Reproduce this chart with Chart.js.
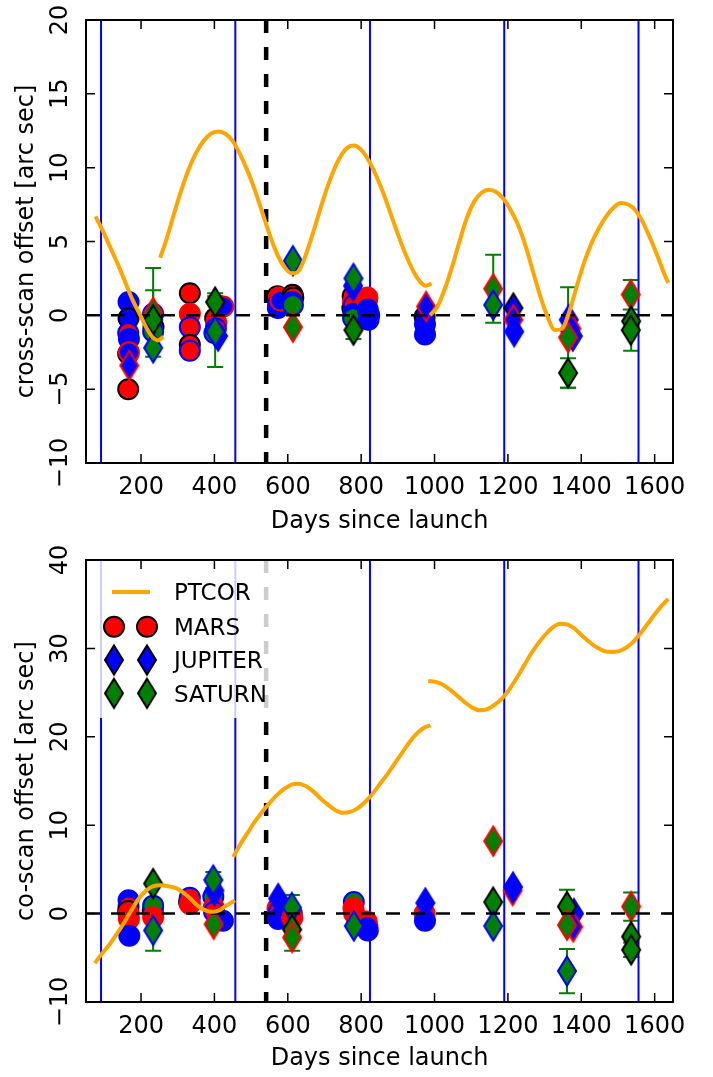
<!DOCTYPE html>
<html>
<head>
<meta charset="utf-8">
<script src="https://cdn.jsdelivr.net/npm/chart.js@4.4.1/dist/chart.umd.min.js"></script>
<style>
  body { margin: 0; background: #fff; }
  .panel { position: absolute; left: 0; width: 713px; }
  #top { top: 0; height: 540px; }
  #bottom { top: 540px; height: 537px; }
</style>
</head>
<body>
<div class="panel" id="top"><canvas id="crossChart"></canvas></div>
<div class="panel" id="bottom"><canvas id="coChart"></canvas></div>
<script>
// axes
const xTicks = [200, 400, 600, 800, 1000, 1200, 1400, 1600];
const crossTicks = [-10, -5, 0, 5, 10, 15, 20];
const coTicks = [-10, 0, 10, 20, 30, 40];
const yearMarks = [91, 457, 824, 1190, 1556];
const eventDay = 541;

// PTCOR model, [day, offset], three pieces per panel
const ptcorCross1 = [[76,6.7],[96,5.7],[116,4.6],[136,3.5],[156,2.3],[176,1.1],[196,0.1],[216,-0.9],[232,-1.5],[246,-1.7],[261,-1.45]];
const ptcorCross2 = [[252,3.9],[270,5.2],[290,6.9],[310,8.5],[330,9.9],[350,11.0],[370,11.8],[390,12.3],[410,12.45],[430,12.3],[450,11.8],[470,10.9],[490,9.8],[510,8.5],[530,7.0],[550,5.5],[570,4.2],[590,3.3],[610,2.85],[625,2.9],[640,3.5],[660,4.9],[680,6.5],[700,8.1],[720,9.5],[740,10.6],[760,11.3],[780,11.5],[800,11.2],[820,10.5],[840,9.5],[860,8.3],[880,6.9],[900,5.5],[920,4.2],[940,3.1],[960,2.3],[975,2.0],[992,2.15]];
const ptcorCross3 = [[988,0.0],[1008,0.6],[1028,1.8],[1048,3.3],[1068,5.0],[1088,6.6],[1108,7.7],[1128,8.3],[1148,8.5],[1168,8.35],[1188,7.9],[1208,7.1],[1228,6.1],[1248,4.7],[1268,3.0],[1288,1.3],[1308,-0.1],[1328,-1.0],[1348,-0.9],[1368,0.3],[1388,2.0],[1408,3.6],[1428,4.9],[1448,5.9],[1468,6.7],[1488,7.3],[1508,7.6],[1528,7.5],[1548,7.1],[1568,6.3],[1588,5.2],[1608,4.0],[1628,2.7],[1637,2.2]];

const ptcorCo1 = [[74,-5.6],[94,-4.5],[114,-3.5],[134,-2.3],[154,-1.0],[174,0.4],[194,1.7],[214,2.6],[234,3.1],[254,3.2],[274,3.1],[294,2.9],[314,2.4],[334,1.7],[354,0.9],[374,0.4],[394,0.2],[414,0.4],[434,0.95],[456,1.5]];
const ptcorCo2 = [[451,6.4],[470,7.8],[490,9.1],[510,10.4],[530,11.5],[550,12.5],[570,13.4],[590,14.1],[610,14.6],[630,14.7],[650,14.4],[670,13.8],[690,13.0],[710,12.3],[730,11.7],[750,11.4],[770,11.5],[790,11.9],[810,12.6],[830,13.5],[850,14.6],[870,15.7],[890,16.9],[910,18.1],[930,19.3],[950,20.3],[970,21.0],[989,21.3]];
const ptcorCo3 = [[983,26.3],[1003,26.2],[1023,25.9],[1043,25.3],[1063,24.6],[1083,23.9],[1103,23.3],[1123,23.0],[1143,23.1],[1163,23.6],[1183,24.3],[1203,25.3],[1223,26.6],[1243,28.0],[1263,29.4],[1283,30.6],[1303,31.6],[1323,32.4],[1343,32.8],[1363,32.7],[1383,32.2],[1403,31.4],[1423,30.7],[1443,30.1],[1463,29.7],[1483,29.6],[1503,29.7],[1523,30.1],[1543,30.8],[1563,31.8],[1583,32.9],[1603,34.0],[1623,35.0],[1637,35.6]];

// planet offsets: [day, offset, subset] (+ error for saturn)
const marsCross = [[166,0.9,'d'],[166,-0.2,'i'],[165,-1.2,'c'],[167,-1.6,'d'],[165,-2.6,'a'],[167,-2.5,'e'],[165,-5.0,'a'],
  [234,-0.8,'a'],[233,0.1,'f'],[233,-1.1,'f'],
  [333,1.5,'a'],[333,0.1,'b'],[333,-0.8,'c'],[333,-2.0,'a'],[333,-2.4,'c'],
  [402,-0.2,'a'],[405,-0.5,'b'],[404,-0.9,'c'],[424,0.6,'e'],[400,-1.2,'f'],
  [572,1.3,'a'],[576,1.2,'b'],[574,0.8,'c'],[573,0.5,'d'],[580,1.0,'e'],
  [613,1.4,'a'],[615,1.2,'a'],[611,0.9,'d'],[614,0.7,'f'],
  [777,1.3,'a'],[776,0.5,'a'],[778,0.9,'b'],[780,0.7,'c'],[779,0.1,'d'],[778,-0.2,'f'],
  [816,1.0,'e'],[817,1.2,'b'],[818,0.4,'d'],[822,0.0,'d'],[820,-0.3,'d'],
  [973,-0.1,'i'],[974,-0.6,'d'],[974,-1.3,'d']];
const jupiterCross = [[168,-3.4,'e'],[410,-1.4,'d'],[778,2.0,'d'],[977,0.6,'e'],
  [1215,0.5,'i'],[1215,-0.3,'e'],[1217,-1.1,'d'],
  [1366,-0.3,'d'],[1368,-1.0,'d'],[1373,-0.9,'e'],[1377,-1.4,'d']];
const saturnCross = [[233,0.2,'h',3.0],[233,-0.3,'g',2.0],[233,-2.2,'f',0],
  [402,0.9,'g',0.6],[402,-1.1,'f',2.4],
  [614,3.7,'f',0],[614,-0.8,'h',0],
  [779,2.5,'f',0],[779,-1.0,'g',0.6],
  [1160,1.8,'h',2.3],[1160,0.7,'f',0],
  [1364,-1.5,'h',3.4],[1364,-3.9,'g',1.0],
  [1535,1.4,'h',1.0],[1536,-0.4,'g',2.0],[1535,-1.0,'g',0]];

const marsCo = [[166,1.5,'d'],[166,0.8,'c'],[165,0.3,'a'],[166,0.0,'b'],[167,-0.6,'b'],[168,-2.5,'d'],
  [232,0.3,'a'],[233,0.9,'f'],[233,-0.4,'b'],
  [331,1.3,'a'],[333,1.8,'c'],[333,1.1,'b'],
  [397,1.9,'f'],[398,0.7,'b'],[399,0.2,'c'],[423,-0.8,'d'],
  [572,0.6,'b'],[576,0.2,'c'],[574,-0.6,'d'],
  [611,0.0,'f'],[612,-0.5,'b'],
  [780,1.3,'f'],[779,0.6,'b'],[781,0.0,'b'],
  [815,-0.9,'b'],[817,-1.4,'e'],[818,-1.9,'d'],
  [973,0.0,'b'],[974,-0.8,'d']];
const jupiterCo = [[400,2.6,'d'],[574,1.7,'d'],[975,1.2,'d'],[1213,2.6,'e'],[1214,3.0,'d'],[1380,0.0,'d'],[1378,-1.5,'e']];
const saturnCo = [[233,3.4,'g',0],[233,-1.9,'f',2.3],
  [397,3.8,'f',0.9],[398,-1.2,'h',0],
  [611,0.7,'f',1.4],[612,-1.8,'g',0],[612,-2.7,'h',1.5],
  [780,-1.4,'f',0],
  [1160,8.2,'h',0],[1160,1.3,'g',0],[1160,-1.4,'f',0],
  [1361,0.8,'g',1.9],[1361,-1.3,'h',0],[1361,-6.5,'f',2.5],
  [1536,0.8,'h',1.6],[1536,-2.6,'g',0],[1536,-4.1,'g',0.8]];

// subset colours (face, edge)
const faceOf = {a:'#ff0000', b:'#ff0000', c:'#ff0000', d:'#0000ff', e:'#0000ff', f:'#008000', g:'#008000', h:'#008000', i:'#0000ff'};
const edgeOf = {a:'#000000', b:'#ff0000', c:'#0000ff', d:'#0000ff', e:'#ff0000', f:'#0000ff', g:'#000000', h:'#ff0000', i:'#000000'};
const ORANGE = '#ffa500';
const FONT = "'DejaVu Sans', sans-serif";

Chart.defaults.font.family = FONT;
Chart.defaults.color = '#000';
Chart.defaults.animation = false;

const diamondCache = {};
function diamond(face, edge) {
  const key = face + edge;
  if (diamondCache[key]) return diamondCache[key];
  const c = document.createElement('canvas');
  c.width = 24; c.height = 34;
  const g = c.getContext('2d');
  g.beginPath();
  g.moveTo(12, 2.5); g.lineTo(21, 17); g.lineTo(12, 31.5); g.lineTo(3, 17); g.closePath();
  g.fillStyle = face; g.fill();
  g.lineWidth = 2; g.strokeStyle = edge; g.stroke();
  diamondCache[key] = c;
  return c;
}

const toXY = rows => rows.map(r => ({x: r[0], y: r[1]}));

function marsSet(rows) {
  return {
    label: 'MARS', data: toXY(rows), order: 4,
    pointStyle: 'circle', pointRadius: 10, pointBorderWidth: 2,
    pointBackgroundColor: rows.map(r => faceOf[r[2]]),
    pointBorderColor: rows.map(r => edgeOf[r[2]])
  };
}
function diamondSet(label, rows, order) {
  return {
    label, data: toXY(rows), order, pointRadius: 10,
    pointStyle: rows.map(r => diamond(faceOf[r[2]], edgeOf[r[2]])),
    errors: rows.map(r => r[3] || 0)
  };
}
function curve(rows) {
  return { type: 'line', label: 'PTCOR', data: toXY(rows), order: 0, borderColor: ORANGE, borderWidth: 4,
    pointRadius: 0, cubicInterpolationMode: 'monotone', fill: false };
}
function vline(day, lo, hi, color, width, dash, order) {
  return { type: 'line', data: [{x: day, y: hi}, {x: day, y: lo}], borderColor: color, borderWidth: width,
    borderDash: dash, pointRadius: 0, order, fill: false };
}

const errorBars = {
  id: 'errorBars',
  beforeDatasetsDraw(chart) {
    const {ctx, scales: {x, y}} = chart;
    ctx.save();
    ctx.strokeStyle = '#008000';
    ctx.lineWidth = 2;
    chart.data.datasets.forEach(ds => {
      if (!ds.errors) return;
      ds.data.forEach((p, i) => {
        const e = ds.errors[i];
        if (!e) return;
        const px = x.getPixelForValue(p.x);
        const t = y.getPixelForValue(p.y + e), b = y.getPixelForValue(p.y - e);
        ctx.beginPath();
        ctx.moveTo(px, t); ctx.lineTo(px, b);
        ctx.moveTo(px - 8, t); ctx.lineTo(px + 8, t);
        ctx.moveTo(px - 8, b); ctx.lineTo(px + 8, b);
        ctx.stroke();
      });
    });
    ctx.restore();
  }
};

const frameTicks = {
  id: 'frameTicks',
  afterDraw(chart, args, opts) {
    const {ctx, chartArea: a, scales: {x, y}} = chart;
    ctx.save();
    ctx.strokeStyle = '#000';
    ctx.lineWidth = 1.5;
    ctx.beginPath();
    xTicks.forEach(v => {
      const px = x.getPixelForValue(v);
      ctx.moveTo(px, a.bottom); ctx.lineTo(px, a.bottom - 9);
      ctx.moveTo(px, a.top); ctx.lineTo(px, a.top + 9);
    });
    opts.ticks.forEach(v => {
      const py = y.getPixelForValue(v);
      ctx.moveTo(a.left, py); ctx.lineTo(a.left + 9, py);
      ctx.moveTo(a.right, py); ctx.lineTo(a.right - 9, py);
    });
    ctx.stroke();
    ctx.lineWidth = 2;
    ctx.strokeRect(a.left, a.top, a.right - a.left, a.bottom - a.top);
    ctx.fillStyle = '#000';
    ctx.font = '24px ' + FONT;
    ctx.textAlign = 'center';
    ctx.textBaseline = 'alphabetic';
    opts.ticks.forEach(v => {
      const py = y.getPixelForValue(v);
      ctx.save();
      ctx.translate(67, py);
      ctx.rotate(-Math.PI / 2);
      ctx.fillText(v < 0 ? '\u2212' + Math.abs(v) : String(v), 0, 0);
      ctx.restore();
    });
    ctx.restore();
  }
};

const legendBox = {
  id: 'legendBox',
  afterDatasetsDraw(chart, args, opts) {
    if (!opts.show) return;
    const {ctx, chartArea: a} = chart;
    ctx.save();
    ctx.fillStyle = 'rgba(255,255,255,0.8)';
    ctx.fillRect(a.left + 1, a.top + 1, 191, 157);
    const rows = [a.top + 32, a.top + 66.7, a.top + 100, a.top + 133.3];
    ctx.strokeStyle = ORANGE; ctx.lineWidth = 4;
    ctx.beginPath(); ctx.moveTo(a.left + 26, rows[0]); ctx.lineTo(a.left + 64, rows[0]); ctx.stroke();
    [a.left + 28, a.left + 61].forEach(mx => {
      ctx.beginPath(); ctx.arc(mx, rows[1], 10, 0, Math.PI * 2);
      ctx.fillStyle = '#ff0000'; ctx.fill(); ctx.lineWidth = 2; ctx.strokeStyle = '#000'; ctx.stroke();
      const dj = diamond('#0000ff', '#000000'), ds = diamond('#008000', '#000000');
      ctx.drawImage(dj, mx - dj.width / 2, rows[2] - dj.height / 2);
      ctx.drawImage(ds, mx - ds.width / 2, rows[3] - ds.height / 2);
    });
    ctx.fillStyle = '#000';
    ctx.font = '23px ' + FONT;
    ctx.textAlign = 'left';
    ctx.textBaseline = 'alphabetic';
    ['PTCOR', 'MARS', 'JUPITER', 'SATURN'].forEach((t, i) => ctx.fillText(t, a.left + 88, rows[i] + 8.4));
    ctx.restore();
  }
};

function makeChart(id, cfg) {
  const datasets = [
    curve(cfg.curves[0]), curve(cfg.curves[1]), curve(cfg.curves[2]),
    { type: 'line', data: [{x: 50, y: 0}, {x: 1650, y: 0}], borderColor: '#000', borderWidth: 2.5,
      borderDash: [14, 11], pointRadius: 0, order: 1, fill: false },
    diamondSet('SATURN', cfg.saturn, 2),
    diamondSet('JUPITER', cfg.jupiter, 3),
    marsSet(cfg.mars),
    ...yearMarks.map(d => vline(d, cfg.yMin, cfg.yMax, '#0000ff', 2, [], 10)),
    vline(eventDay, cfg.yMin, cfg.yMax, '#000', 4.5, [13, 14], 9)
  ];
  return new Chart(document.getElementById(id), {
    type: 'scatter',
    data: { datasets },
    options: {
      responsive: true,
      maintainAspectRatio: false,
      layout: { padding: { top: 20, right: 40, left: 0, bottom: 0 } },
      plugins: {
        legend: { display: false },
        tooltip: { enabled: false },
        frameTicks: { ticks: cfg.yTicks },
        legendBox: { show: cfg.legend }
      },
      scales: {
        x: {
          type: 'linear', min: 50, max: 1650,
          afterBuildTicks: s => { s.ticks = xTicks.map(v => ({ value: v })); },
          afterFit: s => { s.height = cfg.xHeight; },
          grid: { display: false, drawTicks: false },
          border: { display: false },
          ticks: { font: { size: 24 }, padding: 10, maxRotation: 0, callback: v => String(v) },
          title: { display: true, text: 'Days since launch', font: { size: 24 }, padding: { top: 0, bottom: 4 } }
        },
        y: {
          type: 'linear', min: cfg.yMin, max: cfg.yMax,
          afterFit: s => { s.width = 86; },
          grid: { display: false, drawTicks: false },
          border: { display: false },
          ticks: { display: false },
          title: { display: true, text: cfg.yTitle, font: { size: 24 }, padding: { top: 12, bottom: 0 } }
        }
      }
    },
    plugins: [errorBars, legendBox, frameTicks]
  });
}

makeChart('crossChart', {
  curves: [ptcorCross1, ptcorCross2, ptcorCross3],
  mars: marsCross, jupiter: jupiterCross, saturn: saturnCross,
  yMin: -10, yMax: 20, yTicks: crossTicks, xHeight: 77,
  yTitle: 'cross-scan offset [arc sec]', legend: false
});
makeChart('coChart', {
  curves: [ptcorCo1, ptcorCo2, ptcorCo3],
  mars: marsCo, jupiter: jupiterCo, saturn: saturnCo,
  yMin: -10, yMax: 40, yTicks: coTicks, xHeight: 75,
  yTitle: 'co-scan offset [arc sec]', legend: true
});
</script>
</body>
</html>
